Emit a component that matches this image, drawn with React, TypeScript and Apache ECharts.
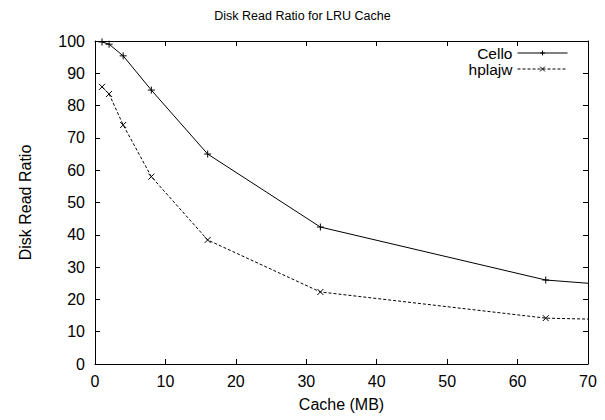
import React, { useEffect, useRef } from "react";
import * as echarts from "echarts";

const cacheMB = [1, 2, 4, 8, 16, 32, 64, 128];
const celloValues = [99.7, 99.0, 95.4, 84.8, 65.0, 42.4, 26.0, 15.3];
const hplajwValues = [85.8, 83.6, 74.0, 58.0, 38.4, 22.3, 14.2, 11.0];
const seriesNames = ["Cello", "hplajw"];
const titleText = "Disk Read Ratio for LRU Cache";
const xName = "Cache (MB)";
const yName = "Disk Read Ratio";

const FONT = '"Liberation Sans", Arial, Helvetica, sans-serif';
const PLUS = "path://M0,5L10,5M5,0L5,10";
const CROSS = "path://M0,0L10,10M10,0L0,10";

export default function App() {
  const ref = useRef<HTMLDivElement>(null);
  useEffect(() => {
    if (!ref.current) return;
    const chart = echarts.init(ref.current, null, { renderer: "svg" });
    const axisCommon = {
      type: "value" as const,
      axisLine: { show: true, onZero: false, lineStyle: { color: "#000", width: 1 } },
      axisTick: { show: true, inside: true, length: 5, lineStyle: { color: "#000" } },
      splitLine: { show: false },
    };
    const label = { color: "#000", fontSize: 16, fontFamily: FONT };
    const pairs = (vals: number[]) => cacheMB.map((x, i) => [x, vals[i]]);
    const legendCommon = {
      right: 37,
      align: "right",
      padding: 0,
      itemWidth: 50,
      itemHeight: 6,
      lineStyle: { width: 1 },
      itemStyle: { borderWidth: 1 },
      textStyle: { fontSize: 15.5, lineHeight: 13, color: "#000", fontFamily: FONT },
      selectedMode: false,
    };
    chart.setOption({
      animation: false,
      backgroundColor: "#fff",
      title: {
        text: titleText,
        left: "center",
        top: 4,
        textStyle: { fontSize: 12.5, fontWeight: "normal", color: "#000", fontFamily: FONT },
      },
      grid: { left: 95, right: 17, top: 41, bottom: 56 },
      legend: [
        { ...legendCommon, data: [seriesNames[0]], top: 45 },
        { ...legendCommon, data: [seriesNames[1]], top: 61 },
      ],
      xAxis: [
        {
          ...axisCommon,
          min: 0,
          max: 70,
          interval: 10,
          position: "bottom",
          name: xName,
          nameLocation: "middle",
          nameGap: 32,
          nameTextStyle: { ...label },
          axisLabel: { ...label, margin: 9 },
        },
        {
          ...axisCommon,
          min: 0,
          max: 70,
          interval: 10,
          position: "top",
          axisLabel: { show: false },
        },
      ],
      yAxis: [
        {
          ...axisCommon,
          min: 0,
          max: 100,
          interval: 10,
          position: "left",
          name: yName,
          nameLocation: "middle",
          nameGap: 62,
          nameTextStyle: { ...label },
          axisLabel: { ...label, margin: 10 },
        },
        {
          ...axisCommon,
          min: 0,
          max: 100,
          interval: 10,
          position: "right",
          axisLabel: { show: false },
        },
      ],
      series: [
        {
          name: seriesNames[0],
          type: "line",
          data: pairs(celloValues),
          clip: true,
          symbol: PLUS,
          symbolSize: 7,
          showAllSymbol: true,
          lineStyle: { color: "#000", width: 1, type: "solid" },
          itemStyle: { color: "#000", borderColor: "#000", borderWidth: 1 },
          emphasis: { disabled: true },
        },
        {
          name: seriesNames[1],
          type: "line",
          data: pairs(hplajwValues),
          clip: true,
          symbol: CROSS,
          symbolSize: 6,
          showAllSymbol: true,
          lineStyle: { color: "#000", width: 1, type: [3, 2] },
          itemStyle: { color: "#000", borderColor: "#000", borderWidth: 1 },
          emphasis: { disabled: true },
        },
      ],
    });
    return () => chart.dispose();
  }, []);
  return <div ref={ref} style={{ width: 605, height: 420, position: "absolute", left: 0, top: 0 }} />;
}
